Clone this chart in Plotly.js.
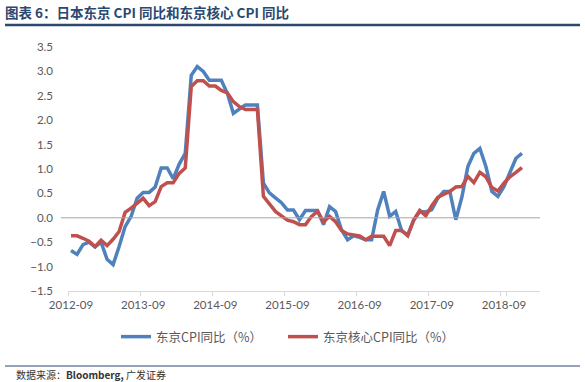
<!DOCTYPE html>
<html><head><meta charset="utf-8">
<script src="https://cdn.plot.ly/plotly-3.0.1.min.js"></script>
<style>html,body{margin:0;padding:0;background:#fff;}#chart{width:585px;height:382px;}</style>
</head><body><div id="chart"></div>
<script>
const months = [
'2012-09','2012-10','2012-11','2012-12',
'2013-01','2013-02','2013-03','2013-04','2013-05','2013-06','2013-07','2013-08','2013-09','2013-10','2013-11','2013-12',
'2014-01','2014-02','2014-03','2014-04','2014-05','2014-06','2014-07','2014-08','2014-09','2014-10','2014-11','2014-12',
'2015-01','2015-02','2015-03','2015-04','2015-05','2015-06','2015-07','2015-08','2015-09','2015-10','2015-11','2015-12',
'2016-01','2016-02','2016-03','2016-04','2016-05','2016-06','2016-07','2016-08','2016-09','2016-10','2016-11','2016-12',
'2017-01','2017-02','2017-03','2017-04','2017-05','2017-06','2017-07','2017-08','2017-09','2017-10','2017-11','2017-12',
'2018-01','2018-02','2018-03','2018-04','2018-05','2018-06','2018-07','2018-08','2018-09','2018-10','2018-11','2018-12'
];
const tokyoCPI = [
-0.67,-0.75,-0.55,-0.50,
-0.60,-0.50,-0.85,-0.96,-0.59,-0.18,0.03,0.40,0.52,0.52,0.63,1.02,
1.02,0.80,1.10,1.32,2.92,3.10,3.00,2.82,2.82,2.82,2.55,2.14,
2.23,2.31,2.31,2.31,0.71,0.51,0.41,0.31,0.16,0.16,-0.04,0.15,
0.15,0.15,-0.14,0.23,0.13,-0.25,-0.45,-0.37,-0.40,-0.45,-0.45,0.16,
0.54,0.03,0.13,-0.27,-0.35,-0.05,0.13,0.12,0.17,0.40,0.54,0.54,
-0.04,0.42,1.05,1.32,1.42,1.05,0.54,0.44,0.64,0.91,1.22,1.32
];
const tokyoCoreCPI = [
-0.37,-0.37,-0.42,-0.48,
-0.59,-0.46,-0.57,-0.44,-0.28,0.11,0.20,0.30,0.40,0.25,0.33,0.64,
0.72,0.72,0.91,1.02,2.69,2.81,2.81,2.70,2.70,2.61,2.56,2.38,
2.28,2.22,2.22,2.22,0.44,0.27,0.13,0.04,-0.05,-0.08,-0.14,-0.14,
0.03,0.13,-0.08,0.03,-0.08,-0.26,-0.33,-0.35,-0.37,-0.45,-0.38,-0.38,
-0.38,-0.57,-0.26,-0.26,-0.37,-0.04,0.15,0.04,0.25,0.42,0.48,0.54,
0.63,0.64,0.85,0.72,0.93,0.84,0.62,0.55,0.71,0.84,0.93,1.03
];
const xTickLabels = ['2012-09','2013-09','2014-09','2015-09','2016-09','2017-09','2018-09'];
const yTickValues = [-1.5,-1.0,-0.5,0.0,0.5,1.0,1.5,2.0,2.5,3.0,3.5];
const seriesNames = ['东京CPI同比（%）','东京核心CPI同比（%）'];
const chartTitle = '图表 6：日本东京 CPI 同比和东京核心 CPI 同比';
const sourceNote = '数据来源：<b>Bloomberg,</b> 广发证券';

const navy = '#2B4870';
const tickFont = {family: 'Lato, "Liberation Sans", sans-serif', size: 11.5, color: '#595959'};

const traces = [
  {x: months, y: tokyoCPI, name: seriesNames[0], type: 'scatter', mode: 'lines',
   line: {color: '#4F81BD', width: 3.5}},
  {x: months, y: tokyoCoreCPI, name: seriesNames[1], type: 'scatter', mode: 'lines',
   line: {color: '#C0504D', width: 3.5}}
];

const layout = {
  width: 585, height: 382,
  margin: {l: 68, r: 45, t: 47, b: 91, pad: 0},
  paper_bgcolor: '#fff', plot_bgcolor: '#fff',
  title: {text: '<b>' + chartTitle + '</b>', xref: 'container', yref: 'container',
    x: 5/585, xanchor: 'left', y: 1 - 13/382, yanchor: 'middle',
    font: {family: '"Noto Sans CJK SC", sans-serif', size: 13.5, color: navy}},
  xaxis: {type: 'category', range: [-0.5, 78], tickmode: 'array',
    tickvals: xTickLabels, ticktext: xTickLabels, tickson: 'boundaries',
    tickangle: 0, automargin: false,
    ticks: 'outside', ticklen: 4, tickcolor: '#D9D9D9', tickwidth: 1,
    showline: true, linecolor: '#D9D9D9', linewidth: 1,
    showgrid: false, zeroline: false, tickfont: tickFont, ticklabelstandoff: 3},
  yaxis: {range: [-1.5, 3.5], tickmode: 'array', tickvals: yTickValues, tickformat: '.1f',
    showgrid: false, zeroline: false, showline: false, ticks: '', automargin: false,
    tickfont: tickFont, ticklabelstandoff: 14},
  showlegend: true,
  legend: {orientation: 'h', xref: 'container', yref: 'container',
    x: 116/585, xanchor: 'left', y: 1 - 337/382, yanchor: 'middle',
    entrywidth: 122, entrywidthmode: 'pixels', itemwidth: 30,
    font: {family: '"Noto Sans CJK SC", sans-serif', size: 12.5, color: '#595959'},
    bgcolor: 'rgba(0,0,0,0)'},
  shapes: [
    {type: 'line', xref: 'paper', yref: 'y', x0: -0.015, x1: 1, y0: 0, y1: 0,
     line: {color: '#A6A6A6', width: 1}},
    {type: 'line', xref: 'paper', yref: 'paper', x0: (5-68)/472, x1: (580-68)/472,
     y0: (291-25)/244, y1: (291-25)/244, line: {color: navy, width: 2.5}},
    {type: 'line', xref: 'paper', yref: 'paper', x0: (5-68)/472, x1: (580-68)/472,
     y0: (291-366)/244, y1: (291-366)/244, line: {color: navy, width: 1}}
  ],
  annotations: [
    {text: sourceNote, xref: 'paper', yref: 'paper', x: (14-68)/472, xanchor: 'left',
     y: (291-374)/244, yanchor: 'middle', showarrow: false,
     font: {family: '"Noto Sans CJK SC", sans-serif', size: 10, color: '#333333'}}
  ]
};

Plotly.newPlot('chart', traces, layout, {displayModeBar: false, staticPlot: true});
</script>
</body></html>
